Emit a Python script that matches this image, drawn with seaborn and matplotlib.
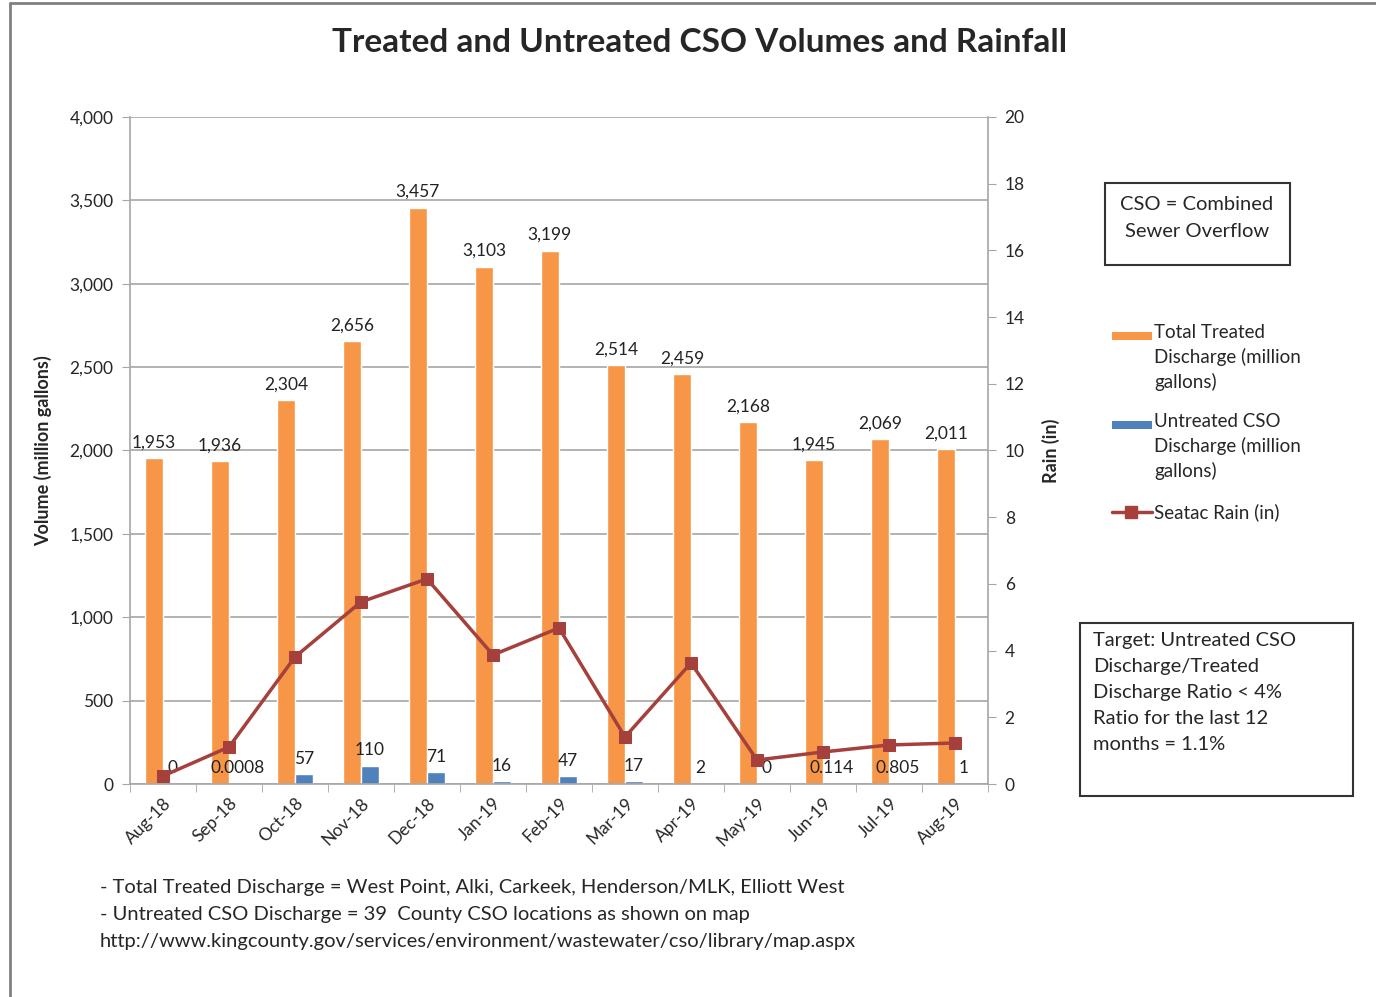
import numpy as np
import pandas as pd
import seaborn as sns
import matplotlib.pyplot as plt
from matplotlib.lines import Line2D
from matplotlib.patches import Rectangle
from matplotlib.ticker import FuncFormatter, FixedLocator

months = ['Aug-18', 'Sep-18', 'Oct-18', 'Nov-18', 'Dec-18', 'Jan-19', 'Feb-19',
          'Mar-19', 'Apr-19', 'May-19', 'Jun-19', 'Jul-19', 'Aug-19']
treated = [1953, 1936, 2304, 2656, 3457, 3103, 3199, 2514, 2459, 2168, 1945, 2069, 2011]
untreated = [0, 0.0008, 57, 110, 71, 16, 47, 17, 2, 0, 0.114, 0.805, 1]
untreated_labels = ['0', '0.0008', '57', '110', '71', '16', '47', '17', '2', '0', '0.114', '0.805', '1']
rain = [0.24, 1.11, 3.81, 5.46, 6.15, 3.87, 4.68, 1.41, 3.63, 0.72, 0.96, 1.17, 1.23]

orange = '#F79646'
blue = '#4F81BD'
red = '#A5403D'
grid = '#A6A6A6'
W, H = 1376, 997

sns.set_style('white')
plt.rcParams['font.family'] = ['Lato', 'DejaVu Sans']

df = pd.DataFrame({
    'month': months * 2,
    'value': treated + untreated,
    'series': ['treated'] * len(months) + ['untreated'] * len(months),
})


def fx(px):
    return px / W


def fy(py):
    return 1 - py / H


fig = plt.figure(figsize=(13.76, 9.97), dpi=100)
ax = fig.add_axes([fx(130), fy(784), 858 / W, 667 / H])

sns.barplot(data=df, x='month', y='value', hue='series', order=months,
            palette={'treated': orange, 'untreated': blue}, width=0.55,
            saturation=1, legend=False, ax=ax)

# data labels
for i, v in enumerate(treated):
    ax.text(i - 0.1375, v + 45, f'{v:,}', ha='center', va='bottom', fontsize=12.5, color='#222222')
for i, v in enumerate(untreated):
    ax.text(i + 0.1375, v + 45, untreated_labels[i], ha='center', va='bottom', fontsize=12.5, color='#222222')

ax.set_ylim(0, 4000)
ax.set_xlim(-0.5, len(months) - 0.5)
ax.yaxis.set_major_locator(FixedLocator(np.arange(0, 4001, 500)))
ax.yaxis.set_major_formatter(FuncFormatter(lambda v, p: f'{int(v):,}'))
ax.grid(axis='y', color=grid, linewidth=1.2)
ax.set_axisbelow(True)
ax.set_xlabel('')
ax.set_ylabel('Volume (million gallons)', fontsize=13, fontweight='bold', labelpad=12)

ax.set_xticks(np.arange(len(months)))
ax.set_xticklabels(months, rotation=45, ha='right', rotation_mode='anchor', fontsize=12.5)
ax.xaxis.set_minor_locator(FixedLocator(np.arange(-0.5, len(months), 1)))
ax.tick_params(axis='x', which='major', length=0, pad=8)
ax.tick_params(axis='x', which='minor', length=6, color=grid, bottom=True)
ax.tick_params(axis='y', length=6, color=grid, left=True, labelsize=12.5, pad=6)

for s in ['left', 'bottom', 'right']:
    ax.spines[s].set_color(grid)
    ax.spines[s].set_linewidth(1.2)
ax.spines['top'].set_visible(False)

ax2 = ax.twinx()
x_pos = np.arange(len(months))
sns.lineplot(x=x_pos, y=rain, color=red, linewidth=2.5, marker='s', markersize=9,
             markeredgecolor=red, ax=ax2)
ax2.set_ylim(0, 20)
ax2.yaxis.set_major_locator(FixedLocator(np.arange(0, 21, 2)))
ax2.set_ylabel('Rain (in)', fontsize=13, fontweight='bold', labelpad=12)
ax2.tick_params(axis='y', length=6, color=grid, right=True, labelsize=12.5, pad=6)
for s in ['left', 'bottom', 'right', 'top']:
    ax2.spines[s].set_visible(False)

fig.text(fx(700), fy(42), 'Treated and Untreated CSO Volumes and Rainfall',
         ha='center', va='center', fontsize=24, fontweight='bold')

# legend, drawn by hand so multi-line labels hang from the key
leg_font = 13.5
fig.add_artist(Rectangle((fx(1112), fy(340)), 40 / W, 8 / H, facecolor=orange, edgecolor='none'))
fig.text(fx(1154), fy(324), 'Total Treated\nDischarge (million\ngallons)', ha='left', va='top',
         fontsize=leg_font, linespacing=1.45)
fig.add_artist(Rectangle((fx(1112), fy(429)), 40 / W, 8 / H, facecolor=blue, edgecolor='none'))
fig.text(fx(1154), fy(413), 'Untreated CSO\nDischarge (million\ngallons)', ha='left', va='top',
         fontsize=leg_font, linespacing=1.45)
fig.add_artist(Line2D([fx(1112), fx(1152)], [fy(512), fy(512)], color=red, linewidth=2.5))
fig.add_artist(Line2D([fx(1131)], [fy(512)], color=red, marker='s', markersize=9))
fig.text(fx(1154), fy(512), 'Seatac Rain (in)', ha='left', va='center', fontsize=leg_font)

# note boxes
fig.add_artist(Rectangle((fx(1105), fy(265)), 185 / W, 82 / H, facecolor='white',
                         edgecolor='#333333', linewidth=1.5))
fig.text(fx(1197), fy(218), 'CSO = Combined\nSewer Overflow', ha='center', va='center',
         fontsize=14.5, linespacing=1.65)
fig.add_artist(Rectangle((fx(1080), fy(796)), 273 / W, 173 / H, facecolor='white',
                         edgecolor='#333333', linewidth=1.5))
fig.text(fx(1093), fy(632),
         'Target: Untreated CSO\nDischarge/Treated\nDischarge Ratio < 4%\nRatio for the last 12\nmonths = 1.1%',
         ha='left', va='top', fontsize=14.5, linespacing=1.65)

notes = ['- Total Treated Discharge = West Point, Alki, Carkeek, Henderson/MLK, Elliott West',
         '- Untreated CSO Discharge = 39  County CSO locations as shown on map',
         'http://www.kingcounty.gov/services/environment/wastewater/cso/library/map.aspx']
for k, line in enumerate(notes):
    fig.text(fx(100), fy(887 + 27 * k), line, ha='left', va='center', fontsize=14.5)

# outer frame
fig.add_artist(Line2D([fx(10), fx(10)], [0, fy(3)], color='#808080', linewidth=2))
fig.add_artist(Line2D([fx(10), 1], [fy(3), fy(3)], color='#808080', linewidth=2))

fig.savefig('out.png', dpi=100)
